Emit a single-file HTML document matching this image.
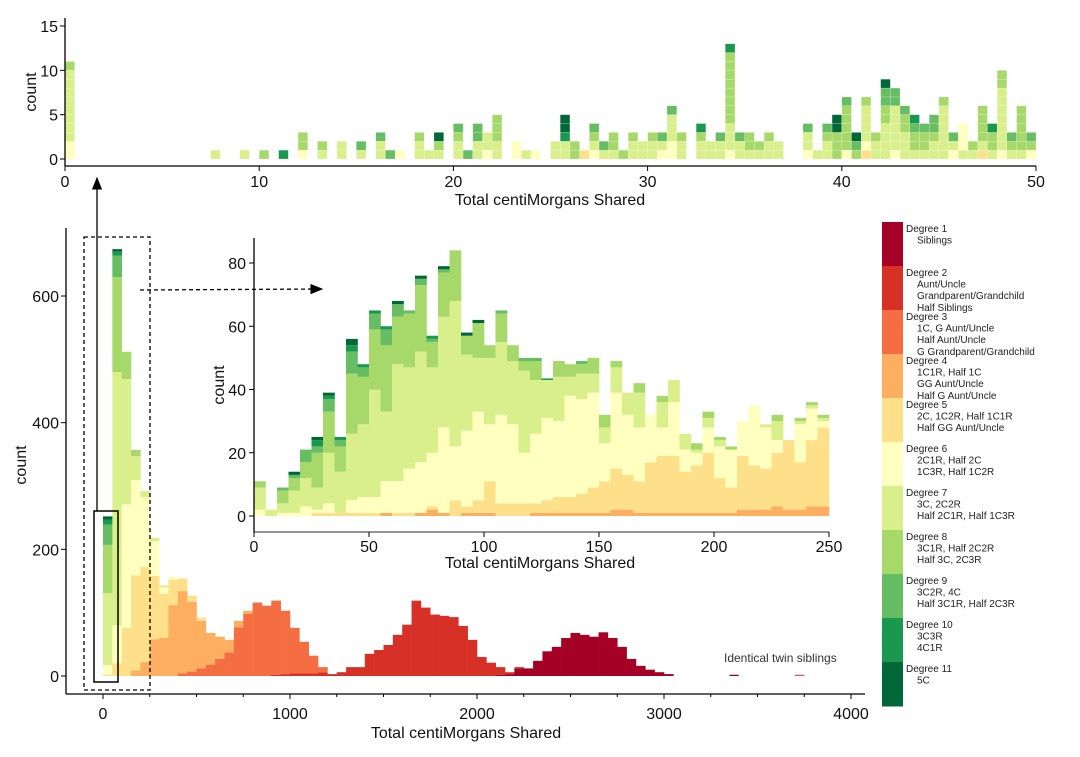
<!DOCTYPE html>
<html><head><meta charset="utf-8"><style>
body{margin:0;background:#fff;}
svg{display:block;font-family:"Liberation Sans",Arial,sans-serif;}
</style></head><body>
<svg id="svg" width="1080" height="757" viewBox="0 0 1080 757">
<defs><marker id="ah" markerWidth="10" markerHeight="8" refX="9" refY="4" orient="auto"><path d="M0,0 L10,4 L0,8 z" fill="#000"/></marker></defs>
<g id="top"></g>
<g id="main"></g>
<g id="inset"></g>
<g id="legend"></g>
</svg>
<script>
const colors=["#a50026","#d73027","#f46d43","#fdae61","#fee08b","#ffffbf","#d9ef8b","#a6d96a","#66bd63","#1a9850","#006837"];
const legendTitles=["Degree 1","Degree 2","Degree 3","Degree 4","Degree 5","Degree 6","Degree 7","Degree 8","Degree 9","Degree 10","Degree 11"];
const legendLines=[["Siblings"],["Aunt/Uncle","Grandparent/Grandchild","Half Siblings"],["1C, G Aunt/Uncle","Half Aunt/Uncle","G Grandparent/Grandchild"],["1C1R, Half 1C","GG Aunt/Uncle","Half G Aunt/Uncle"],["2C, 1C2R, Half 1C1R","Half GG Aunt/Uncle"],["2C1R, Half 2C","1C3R, Half 1C2R"],["3C, 2C2R","Half 2C1R, Half 1C3R"],["3C1R, Half 2C2R","Half 3C, 2C3R"],["3C2R, 4C","Half 3C1R, Half 2C3R"],["3C3R","4C1R"],["5C"]];

// ---- top chart data: bin index (0.5 cM bins) and stacked degree cells
const topBins=[0,15,18,20,22,24,26,28,30,32,33,34,36,37,38,40,41,42,43,44,46,47,48,50,51,52,53,54,55,56,57,58,59,60,61,62,63,65,66,67,68,69,70,71,72,73,76,77,78,79,80,81,82,83,84,85,86,87,88,89,90,91,92,93,94,95,96,97,98,99];
const topStacks=["66777777778","7","7","8","10","688","78","77","79","779","9","6","778","7","7811","7789","9","7799","677","77888","66","7","6","77","77101111","88","5","6789","79","788","8","778","77","778","679","667779","778","77810","77","779","67778888888810","779","788","78","778","77","6779","7","7789","8881111","6888889","8911","5677778","778","7777889911","67777799","777889","788910","7889","77899","7777778","679","7666","78","578888","78810","6777777788","789","788888","689"];
function parseStack(s){const out=[];let i=0;while(i<s.length){if(s[i]==='1'&&s[i+1]==='0'){out.push(10);i+=2;}else if(s[i]==='1'&&s[i+1]==='1'){out.push(11);i+=2;}else{out.push(+s[i]);i++;}}return out;}

// ---- main chart data: 50 cM bins, counts per degree
const mainD11=[5,4];
const mainD10=[8,6];
const mainD9=[32,34];
const mainD8=[76,150,43,10];
const mainD7=[114,400,198,38,10,5,3];
const mainD6=[15,60,195,150,110,55,10,5];
const mainD5=[2,20,76,150,150,100,70,40,20,10,5];
const mainD4=[0,0,0,9,22,58,60,112,130,110,75,50,35,20,10,5];
const mainD3=[0,0,0,0,0,0,0,0,4,7,12,18,27,37,77,98,116,111,117,100,72,50,28,8];
const mainD2=[0,0,0,0,0,0,0,0,0,0,0,0,0,0,0,0,0,0,2,3,4,4,4,6,3,6,14,14,35,41,49,65,81,119,108,97,95,93,79,57,30,21,12,3,2];
const mainD1=[0,0,0,0,0,0,0,0,0,0,0,0,0,0,0,0,0,0,0,0,0,0,0,0,0,0,0,0,0,0,0,0,0,0,0,0,0,0,0,0,0,0,2,3,12,12,24,39,46,60,68,65,62,69,60,46,27,16,10,6,3];
const twinCM=[3350,3700];
const twinCount=[2,2];
const mainXTicks=[0,1000,2000,3000,4000];
const mainYTicks=[0,200,400,600];

// ---- inset data: 5 cM bins, cumulative stack tops per degree layer
const insetD4Top=[0,0,0,0,0,0,0,0,0,0,0,1,0,0,1,2,1,0,1,1,1,0,0,0,1,1,1,1,1,1,1,2,2,1,1,1,1,1,1,1,1,1,2,2,2,3,2,2,3,3];
const insetD5Top=[0,0,0,0,0,1,1,1,1,1,1,1,1,1,1,3,1,5,3,5,11,4,4,4,4,5,6,6,7,9,11,15,13,11,17,19,19,14,16,20,12,9,19,16,15,20,24,17,24,28];
const insetD6Top=[2,0,1,1,3,2,4,1,5,6,6,11,11,15,17,20,28,22,27,33,29,32,29,20,26,31,30,38,37,39,23,39,32,28,32,28,36,21,20,28,22,21,30,35,28,24,18,29,34,30];
const insetD7Top=[9,2,4,8,12,9,20,14,26,29,40,33,48,47,52,47,63,68,51,50,50,55,49,46,43,43,44,44,45,45,28,47,39,39,28,36,43,26,21,31,24,21,30,35,29,30,19,30,35,31];
const insetD8Top=[11,2,8,12,17,20,33,22,45,44,59,54,63,64,73,55,77,84,57,61,54,64,54,49,49,43,49,48,48,50,32,49,39,42,32,38,43,26,23,33,25,22,30,35,29,32,19,31,36,32];
const insetD9Top=[11,2,9,13,21,22,37,24,52,47,64,59,67,65,75,56,78,84,57,61,54,65,54,50,50,43,49,48,49,50,32,49,39,42,32,38,43,26,23,33,25,22,30,35,29,32,19,31,36,32];
const insetD10Top=[11,2,9,13,21,24,38,25,54,48,65,60,67,65,75,57,78,84,57,61,54,65,54,50,50,43.5,49,48,49,50,32,49,39,42,32,38,43,26,23,33,25,22,30,35,29,32,19,31,36,32];
const insetTotal=[11,2,9,14,21,25,39,25,56,48,65,60,68,65,76,57,79,84,58,62,54,65,54,50,50,43.5,49,48,49,50,32,49,39,42,32,38,43,26,23,33,25,22,30,35,29,32,19,31,36,32];
const insetXTicks=[0,50,100,150,200,250];
const insetYTicks=[0,20,40,60,80];
const topXTicks=[0,10,20,30,40,50];
const topYTicks=[0,5,10,15];

const NS="http://www.w3.org/2000/svg";
function mk(tag,attrs,parent){const e=document.createElementNS(NS,tag);for(const k in attrs)e.setAttribute(k,attrs[k]);parent.appendChild(e);return e;}
function txt(s,attrs,parent){const e=mk('text',attrs,parent);e.textContent=s;return e;}

// ===== TOP CHART
(function(){
const g=document.getElementById('top');
const x=v=>65+v*(1036-65)/50, y=v=>159-v*(159-26)/15;
topBins.forEach((b,i)=>{
  const cells=parseStack(topStacks[i]);
  cells.forEach((d,j)=>{
    const r=mk('rect',{x:x(b*0.5),y:y(j+1),width:x(0.5)-x(0),height:y(0)-y(1),fill:colors[d-1],stroke:'#fff','stroke-width':0.4,'stroke-opacity':0.5},g);
    
    
  });
});
mk('line',{x1:65,y1:166,x2:1036,y2:166,stroke:'#000','stroke-width':1.3},g);
mk('line',{x1:65,y1:18,x2:65,y2:166,stroke:'#000','stroke-width':1.3},g);
topXTicks.forEach(t=>{mk('line',{x1:x(t),y1:166,x2:x(t),y2:171,stroke:'#000'},g);
 const e=txt(t,{x:x(t),y:187,'font-size':16,'text-anchor':'middle',fill:'#111'},g);});
topYTicks.forEach(t=>{mk('line',{x1:60,y1:y(t),x2:65,y2:y(t),stroke:'#000'},g);
 const e=txt(t,{x:58,y:y(t)+6,'font-size':16,'text-anchor':'end',fill:'#111'},g);});
const xt=txt('Total centiMorgans Shared',{x:550,y:205,'font-size':16,'text-anchor':'middle',fill:'#111'},g);
const yt=txt('count',{x:0,y:0,'font-size':16,'text-anchor':'middle',fill:'#111',transform:'translate(36,92) rotate(-90)'},g);
})();

// ===== MAIN CHART
(function(){
const g=document.getElementById('main');
const x=v=>103+v*0.187, y=v=>676-v*(676-296)/600;
const series=[mainD1,mainD2,mainD3,mainD4,mainD5,mainD6,mainD7,mainD8,mainD9,mainD10,mainD11];
for(let k=0;k<61;k++){
  let base=0;
  series.forEach((s,d)=>{
    const v=s[k]||0; if(!v)return;
    const r=mk('rect',{x:x(k*50),y:y(base+v),width:x(50)-x(0)+0.3,height:y(base)-y(base+v),fill:colors[d]},g);
    
    
    base+=v;
  });
}
twinCM.forEach((c,i)=>{const r=mk('rect',{x:x(c),y:y(twinCount[i]),width:x(50)-x(0),height:y(0)-y(twinCount[i]),fill:i?'#c8577a':colors[0]},g);
 });
const tw=txt('Identical twin siblings',{x:724,y:662,'font-size':12,fill:'#333'},g);
mk('line',{x1:66,y1:694,x2:865,y2:694,stroke:'#000','stroke-width':1.3},g);
mk('line',{x1:66,y1:228,x2:66,y2:694,stroke:'#000','stroke-width':1.3},g);
for(let m=0;m<=4000;m+=250){mk('line',{x1:x(m),y1:694,x2:x(m),y2:m%1000===0?699:697,stroke:'#000'},g);}
mainXTicks.forEach(t=>{const e=txt(t,{x:x(t),y:719,'font-size':16,'text-anchor':'middle',fill:'#111'},g);});
mainYTicks.forEach(t=>{mk('line',{x1:61,y1:y(t),x2:66,y2:y(t),stroke:'#000'},g);
 const e=txt(t,{x:59,y:y(t)+6,'font-size':16,'text-anchor':'end',fill:'#111'},g);});
const xt=txt('Total centiMorgans Shared',{x:466,y:738,'font-size':16,'text-anchor':'middle',fill:'#111'},g);
const yt=txt('count',{x:0,y:0,'font-size':16,'text-anchor':'middle',fill:'#111',transform:'translate(26,465) rotate(-90)'},g);
const dr=mk('rect',{x:84,y:237,width:66,height:453,fill:'none',stroke:'#000','stroke-width':1.3,'stroke-dasharray':'4,3'},g);
const sr=mk('rect',{x:94,y:511,width:24,height:171,fill:'none',stroke:'#000','stroke-width':1.5},g);
const a1=mk('line',{x1:97,y1:511,x2:97,y2:178,stroke:'#000','stroke-width':1.3,'marker-end':'url(#ah)'},g);
const a2=mk('line',{x1:140,y1:290,x2:322,y2:289,stroke:'#000','stroke-width':1.3,'stroke-dasharray':'4,3','marker-end':'url(#ah)'},g);
})();

// ===== INSET
(function(){
const g=document.getElementById('inset');
const x=v=>254+v*(829-254)/250, y=v=>516-v*(516-263)/80;
const layers=[[insetD4Top,colors[3]],[insetD5Top,colors[4]],[insetD6Top,colors[5]],[insetD7Top,colors[6]],[insetD8Top,colors[7]],[insetD9Top,colors[8]],[insetD10Top,colors[9]],[insetTotal,colors[10]]];
for(let b=0;b<50;b++){
  let prev=0;
  layers.forEach(([arr,c])=>{
    const top=Math.max(prev,arr[b]);
    if(top>prev){const r=mk('rect',{x:x(b*5),y:y(top),width:x(5)-x(0)+0.3,height:y(prev)-y(top),fill:c},g);
      
      }
    prev=top;
  });
}
mk('line',{x1:254,y1:532,x2:829,y2:532,stroke:'#555','stroke-width':1.3},g);
mk('line',{x1:254,y1:238,x2:254,y2:532,stroke:'#000','stroke-width':1.3},g);
insetXTicks.forEach(t=>{mk('line',{x1:x(t),y1:532,x2:x(t),y2:537,stroke:'#000'},g);
 const e=txt(t,{x:x(t),y:552,'font-size':16,'text-anchor':'middle',fill:'#111'},g);});
insetYTicks.forEach(t=>{mk('line',{x1:249,y1:y(t),x2:254,y2:y(t),stroke:'#000'},g);
 const e=txt(t,{x:246,y:y(t)+6,'font-size':16,'text-anchor':'end',fill:'#111'},g);});
const xt=txt('Total centiMorgans Shared',{x:540,y:568,'font-size':16,'text-anchor':'middle',fill:'#111'},g);
const yt=txt('count',{x:0,y:0,'font-size':16,'text-anchor':'middle',fill:'#111',transform:'translate(224,385) rotate(-90)'},g);
})();

// ===== LEGEND
(function(){
const g=document.getElementById('legend');
colors.forEach((c,i)=>{
  const top=222+i*44;
  const r=mk('rect',{x:882,y:top,width:21,height:44.5,fill:c},g);
  
  
  const t=txt(legendTitles[i],{x:906,y:top+10,'font-size':10,fill:'#222'},g);
  
  
  legendLines[i].forEach((l,j)=>{const s=txt(l,{x:917,y:top+21.5+j*11.7,'font-size':10,fill:'#222'},g);
    
    });
});
})();
</script>
</body></html>
